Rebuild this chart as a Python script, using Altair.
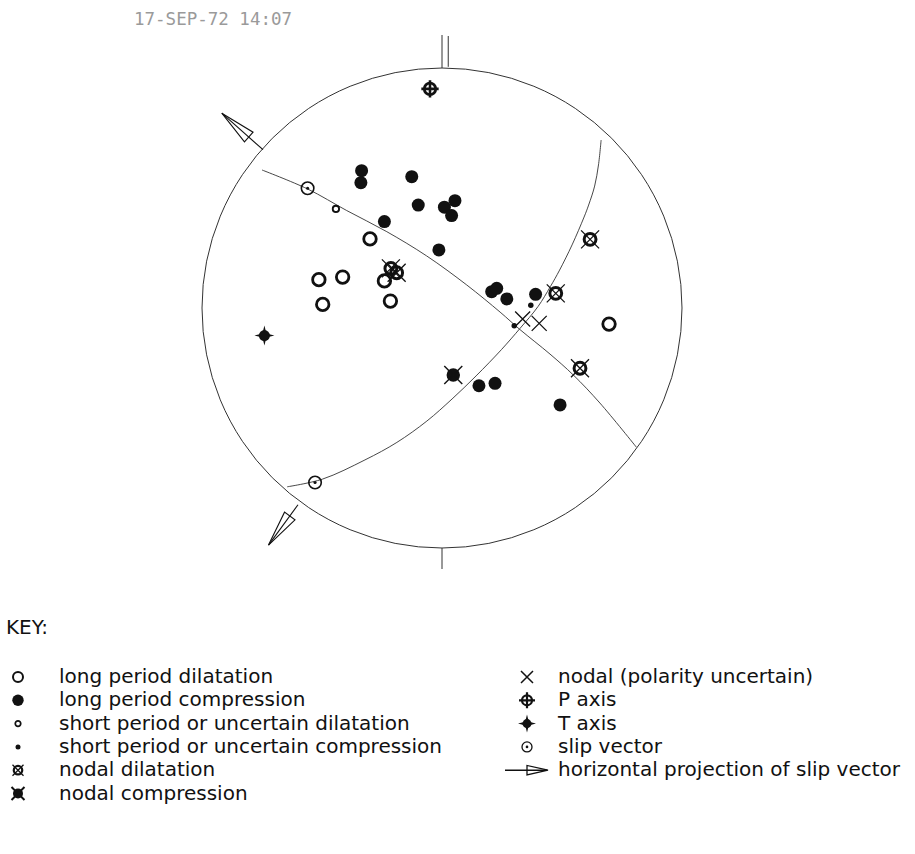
import math

import altair as alt
import pandas as pd

TITLE = "17-SEP-72 14:07"

# First-motion polarities on the focal sphere, lower-hemisphere projection,
# unit radius, x = east, y = north.
lp_dil_x = [-0.300, -0.513, -0.414, -0.497, -0.240, -0.215, 0.696]
lp_dil_y = [0.288, 0.118, 0.129, 0.015, 0.113, 0.029, -0.067]

lp_comp_x = [-0.335, -0.338, -0.126, -0.099, 0.010, 0.054, 0.040, -0.240,
             -0.013, 0.207, 0.228, 0.270, 0.390, 0.154, 0.221, 0.492]
lp_comp_y = [0.572, 0.522, 0.547, 0.429, 0.420, 0.447, 0.385, 0.360,
             0.242, 0.068, 0.082, 0.038, 0.057, -0.324, -0.314, -0.404]

sp_dil_x = [-0.442]
sp_dil_y = [0.413]

sp_comp_x = [0.370, 0.301]
sp_comp_y = [0.011, -0.074]

nodal_dil_x = [-0.213, -0.189, 0.617, 0.474, 0.575]
nodal_dil_y = [0.165, 0.147, 0.286, 0.061, -0.251]

nodal_comp_x = [0.047]
nodal_comp_y = [-0.279]

nodal_unc_x = [0.336, 0.405]
nodal_unc_y = [-0.046, -0.064]

p_axis_x, p_axis_y = [-0.050], [0.913]
t_axis_x, t_axis_y = [-0.740], [-0.115]

# Nodal planes traced across the net
plane_a_x = [-0.750, -0.560, -0.397, -0.230, -0.064, 0.103, 0.242, 0.325,
             0.450, 0.547, 0.658, 0.810]
plane_a_y = [0.575, 0.496, 0.406, 0.318, 0.217, 0.096, -0.017, -0.090,
             -0.192, -0.279, -0.396, -0.580]
plane_b_x = [0.663, 0.652, 0.636, 0.611, 0.592, 0.542, 0.490, 0.452, 0.400,
             0.325, 0.248, 0.142, 0.042, -0.063, -0.188, -0.321, -0.498,
             -0.645]
plane_b_y = [0.700, 0.596, 0.508, 0.429, 0.379, 0.263, 0.158, 0.090, 0.006,
             -0.085, -0.173, -0.283, -0.379, -0.471, -0.560, -0.633, -0.713,
             -0.745]

# Slip vectors and the azimuths (deg) of their horizontal projections
slip_x = [-0.560, -0.529]
slip_y = [0.499, -0.727]
slip_az = [311.5, 216.2]

key_left = [
    "long period dilatation",
    "long period compression",
    "short period or uncertain dilatation",
    "short period or uncertain compression",
    "nodal dilatation",
    "nodal compression",
]
key_right = [
    "nodal (polarity uncertain)",
    "P axis",
    "T axis",
    "slip vector",
    "horizontal projection of slip vector",
]

# ---- canvas geometry -------------------------------------------------------
W, H = 915, 854
CX, CY, R = 442, 308, 240
INK = "#111111"
LINE = "#333333"
FONT = "DejaVu Sans"

X_PATH = "M-1,-1L1,1M-1,1L1,-1"
PLUS_PATH = "M-1,0L1,0M0,-1L0,1"
STAR_PATH = "M0,-1L0.2,-0.2L1,0L0.2,0.2L0,1L-0.2,0.2L-1,0L-0.2,-0.2Z"
HEAD_PATH = "M0,-1L0.36,1L-0.36,1Z"
KEY_HEAD_PATH = "M0,-1L0.45,1L-0.45,1Z"


def ux(px):
    return (px - CX) / R


def uy(py):
    return (CY - py) / R


xs = alt.Scale(domain=[-CX / R, (W - CX) / R], nice=False, zero=False)
ys = alt.Scale(domain=[(CY - H) / R, CY / R], nice=False, zero=False)
X = alt.X("x:Q", scale=xs, axis=None)
Y = alt.Y("y:Q", scale=ys, axis=None)


def frame(xv, yv):
    return pd.DataFrame({"x": list(xv), "y": list(yv)})


def sym(df, shape, size, filled=False, sw=1.0, color=INK, **extra):
    return alt.Chart(df).mark_point(
        shape=shape, size=size, filled=filled, opacity=1,
        strokeWidth=sw, color=color, **extra
    ).encode(x=X, y=Y)


layers = []

# primitive circle and N/S ticks
layers.append(sym(frame([0], [0]), "circle", (2 * R) ** 2, sw=1.0, color=LINE))
ticks = pd.DataFrame({
    "x": [0.0, 0.026, 0.0],
    "y": [1.0, 1.005, -1.0],
    "y2": [uy(35), uy(36), uy(569)],
})
layers.append(alt.Chart(ticks).mark_rule(color=LINE, strokeWidth=1.0)
              .encode(x=X, y=Y, y2="y2:Q"))

# nodal planes
planes = pd.concat([
    pd.DataFrame({"x": plane_a_x, "y": plane_a_y, "plane": "A",
                  "i": range(len(plane_a_x))}),
    pd.DataFrame({"x": plane_b_x, "y": plane_b_y, "plane": "B",
                  "i": range(len(plane_b_x))}),
])
layers.append(alt.Chart(planes).mark_line(
    color=LINE, strokeWidth=0.9, interpolate="catmull-rom"
).encode(x=X, y=Y, detail="plane:N", order="i:Q"))

# horizontal projections of the slip vectors, drawn outside the net
shaft_r0 = [0.996, 1.016]
shaft_r1 = [1.225, 1.224]
head_r = [1.150, 1.149]
rad = [math.radians(a) for a in slip_az]
shafts = pd.DataFrame({
    "x": [r * math.sin(t) for r, t in zip(shaft_r0, rad)],
    "y": [r * math.cos(t) for r, t in zip(shaft_r0, rad)],
    "x2": [r * math.sin(t) for r, t in zip(shaft_r1, rad)],
    "y2": [r * math.cos(t) for r, t in zip(shaft_r1, rad)],
})
layers.append(alt.Chart(shafts).mark_rule(color=INK, strokeWidth=1.1)
              .encode(x=X, y=Y, x2="x2:Q", y2="y2:Q"))
heads = pd.DataFrame({
    "x": [r * math.sin(t) for r, t in zip(head_r, rad)],
    "y": [r * math.cos(t) for r, t in zip(head_r, rad)],
    "az": slip_az,
})
layers.append(alt.Chart(heads).mark_point(
    shape=HEAD_PATH, size=36 ** 2, filled=False, opacity=1,
    strokeWidth=1.1, color=INK
).encode(x=X, y=Y, angle=alt.Angle("az:Q", scale=None)))

# observations
layers.append(sym(frame(lp_dil_x, lp_dil_y), "circle", 156, sw=2.8))
layers.append(sym(frame(lp_comp_x, lp_comp_y), "circle", 169, filled=True))
layers.append(sym(frame(sp_dil_x, sp_dil_y), "circle", 40, sw=1.9))
layers.append(sym(frame(sp_comp_x, sp_comp_y), "circle", 30, filled=True))
layers.append(sym(frame(nodal_dil_x, nodal_dil_y), "circle", 140, sw=3.0))
layers.append(sym(frame(nodal_dil_x, nodal_dil_y), X_PATH, 324, sw=1.3))
layers.append(sym(frame(nodal_comp_x, nodal_comp_y), "circle", 180, filled=True))
layers.append(sym(frame(nodal_comp_x, nodal_comp_y), X_PATH, 324, sw=1.4))
layers.append(sym(frame(nodal_unc_x, nodal_unc_y), X_PATH, 225, sw=1.3))
layers.append(sym(frame(p_axis_x, p_axis_y), "circle", 130, sw=2.8))
layers.append(sym(frame(p_axis_x, p_axis_y), PLUS_PATH, 300, sw=2.6))
layers.append(sym(frame(t_axis_x, t_axis_y), STAR_PATH, 400, filled=True))
layers.append(sym(frame(t_axis_x, t_axis_y), "circle", 121, filled=True))
layers.append(sym(frame(slip_x, slip_y), "circle", 156, sw=1.6))
layers.append(sym(frame(slip_x, slip_y), "circle", 10, filled=True))

# title
layers.append(alt.Chart(pd.DataFrame({"t": [TITLE]})).mark_text(
    align="left", baseline="middle", font="DejaVu Sans Mono", fontSize=17.5,
    color="#9a9a9a"
).encode(x=alt.value(134), y=alt.value(20), text="t:N"))

# ---- key -------------------------------------------------------------------
ROW0, ROW_STEP = 677, 23.3
rows = [ROW0 + ROW_STEP * i for i in range(len(key_left))]
LX_SYM, LX_TXT = 18, 59
RX_SYM, RX_TXT = 527, 558

key_text = pd.DataFrame({
    "x": [ux(6)] + [ux(LX_TXT)] * len(key_left) + [ux(RX_TXT)] * len(key_right),
    "y": [uy(628)] + [uy(r) for r in rows] + [uy(r) for r in rows[:len(key_right)]],
    "t": ["KEY:"] + key_left + key_right,
})
layers.append(alt.Chart(key_text).mark_text(
    align="left", baseline="middle", font=FONT, fontSize=20, color=INK
).encode(x=X, y=Y, text="t:N"))


def kpt(px, row):
    return frame([ux(px)], [uy(rows[row])])


layers.append(sym(kpt(LX_SYM, 0), "circle", 100, sw=2.0))
layers.append(sym(kpt(LX_SYM, 1), "circle", 130, filled=True))
layers.append(sym(kpt(LX_SYM, 2), "circle", 30, sw=1.7))
layers.append(sym(kpt(LX_SYM, 3), "circle", 25, filled=True))
layers.append(sym(kpt(LX_SYM, 4), "circle", 72, sw=2.2))
layers.append(sym(kpt(LX_SYM, 4), X_PATH, 121, sw=1.3))
layers.append(sym(kpt(LX_SYM, 5), "circle", 100, filled=True))
layers.append(sym(kpt(LX_SYM, 5), X_PATH, 169, sw=2.0))

layers.append(sym(kpt(RX_SYM, 0), X_PATH, 144, sw=1.5))
layers.append(sym(kpt(RX_SYM, 1), "circle", 100, sw=2.2))
layers.append(sym(kpt(RX_SYM, 1), PLUS_PATH, 256, sw=2.2))
layers.append(sym(kpt(RX_SYM, 2), STAR_PATH, 324, filled=True))
layers.append(sym(kpt(RX_SYM, 2), "circle", 81, filled=True))
layers.append(sym(kpt(RX_SYM, 3), "circle", 100, sw=1.3))
layers.append(sym(kpt(RX_SYM, 3), "circle", 7, filled=True))

key_shaft = pd.DataFrame({"x": [ux(505)], "x2": [ux(547)], "y": [uy(rows[4])]})
layers.append(alt.Chart(key_shaft).mark_rule(color=INK, strokeWidth=1.4)
              .encode(x=X, x2="x2:Q", y=Y))
layers.append(sym(kpt(537.5, 4), KEY_HEAD_PATH, 441, sw=1.3, angle=90))

chart = alt.layer(*layers).properties(
    width=W, height=H, padding=0, autosize=alt.AutoSizeParams(type="none"),
    background="white"
).configure_view(stroke=None)

chart.save("out.html", embed_options={"renderer": "svg", "actions": False})
